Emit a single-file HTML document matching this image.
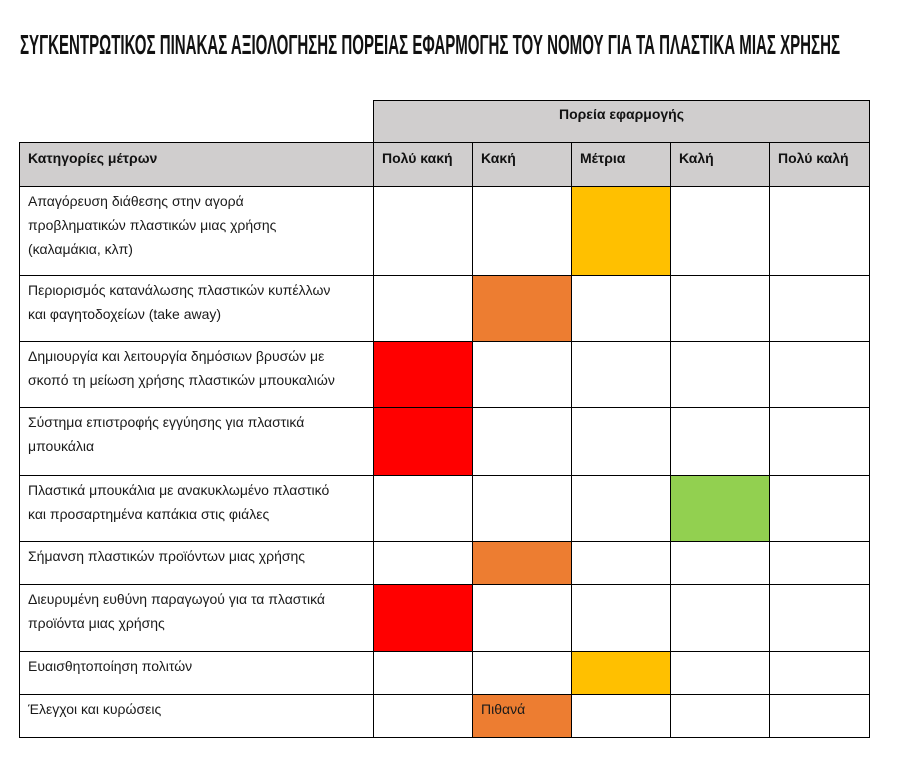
<!DOCTYPE html>
<html><head><meta charset="utf-8"><style>
body{margin:0;width:900px;height:759px;background:#fff;position:relative;overflow:hidden;font-family:"Liberation Sans",Arial,sans-serif;}
svg.t{position:absolute;left:0;top:0}
.c{position:absolute;box-sizing:border-box;border:1px solid #000;font-size:14px;line-height:24px;padding:2px 8px;color:#1a1a1a}
.h{background:#d0cece;font-weight:bold;color:#111;padding-top:3px}
</style></head><body>
<svg class="t" width="900" height="70"><text x="20" y="54" font-family="Liberation Sans" font-weight="bold" font-size="28" fill="#111" textLength="820" lengthAdjust="spacingAndGlyphs">ΣΥΓΚΕΝΤΡΩΤΙΚΟΣ ΠΙΝΑΚΑΣ ΑΞΙΟΛΟΓΗΣΗΣ ΠΟΡΕΙΑΣ ΕΦΑΡΜΟΓΗΣ ΤΟΥ ΝΟΜΟΥ ΓΙΑ ΤΑ ΠΛΑΣΤΙΚΑ ΜΙΑΣ ΧΡΗΣΗΣ</text></svg>
<div id="g"></div>
<script>
const xs=[19,373,472,571,670,769,869];
const ys=[100,142,186,275,341,407,475,541,584,651,694,737];
const g=document.getElementById('g');
function cell(x0,x1,y0,y1,txt,cls,bg,extra){const d=document.createElement('div');d.className='c '+(cls||'');
d.style.left=x0+'px';d.style.top=y0+'px';d.style.width=(x1-x0+1)+'px';d.style.height=(y1-y0+1)+'px';
if(bg)d.style.background=bg;if(extra)d.style.cssText+=extra;d.innerHTML=txt||'';g.appendChild(d);}
cell(373,869,100,142,'Πορεία εφαρμογής','h',null,'text-align:center;padding-top:1px');
const hd=['Κατηγορίες μέτρων','Πολύ κακή','Κακή','Μέτρια','Καλή','Πολύ καλή'];
for(let i=0;i<6;i++)cell(xs[i],xs[i+1],142,186,hd[i],'h');
const rows=[
['Απαγόρευση διάθεσης στην αγορά<br>προβληματικών πλαστικών μιας χρήσης<br>(καλαμάκια, κλπ)',3,'#FFC000'],
['Περιορισμός κατανάλωσης πλαστικών κυπέλλων<br>και φαγητοδοχείων (take away)',2,'#ED7D31'],
['Δημιουργία και λειτουργία δημόσιων βρυσών με<br>σκοπό τη μείωση χρήσης πλαστικών μπουκαλιών',1,'#FF0000'],
['Σύστημα επιστροφής εγγύησης για πλαστικά<br>μπουκάλια',1,'#FF0000'],
['Πλαστικά μπουκάλια με ανακυκλωμένο πλαστικό<br>και προσαρτημένα καπάκια στις φιάλες',4,'#92D050'],
['Σήμανση πλαστικών προϊόντων μιας χρήσης',2,'#ED7D31'],
['Διευρυμένη ευθύνη παραγωγού για τα πλαστικά<br>προϊόντα μιας χρήσης',1,'#FF0000'],
['Ευαισθητοποίηση πολιτών',3,'#FFC000'],
['Έλεγχοι και κυρώσεις',2,'#ED7D31']];
rows.forEach((r,k)=>{for(let i=0;i<6;i++){cell(xs[i],xs[i+1],ys[k+2],ys[k+3],i==0?r[0]:(k==8&&i==2?'Πιθανά':''),'',i==r[1]?r[2]:null);}});
</script>
</body></html>
